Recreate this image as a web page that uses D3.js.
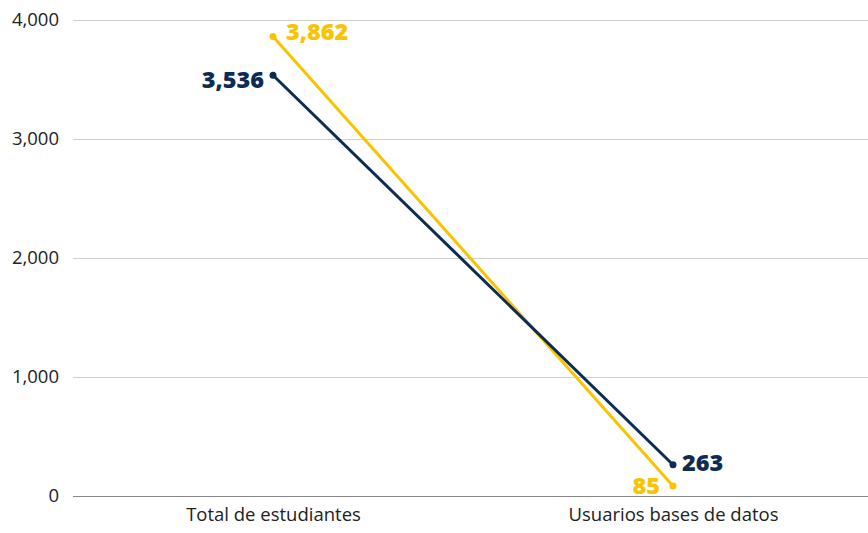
<!DOCTYPE html>
<html>
<head>
<meta charset="utf-8">
<script src="https://cdn.jsdelivr.net/npm/d3@7"></script>
<style>
  body { margin: 0; background: #fff; }
  svg { font-family: "Open Sans", sans-serif; }
</style>
</head>
<body>
<svg id="chart" width="868" height="533"></svg>
<script>
// data
var categories = ["Total de estudiantes", "Usuarios bases de datos"];
var navyValues = [3536, 263];
var yellowValues = [3862, 85];
var yTicks = [0, 1000, 2000, 3000, 4000];

var margin = { top: 20, left: 73, bottom: 37 },
  width = 800,
  gridWidth = 868 - margin.left,
  height = 533 - margin.top - margin.bottom;

var svg = d3.select("#chart")
  .append("g")
  .attr("transform", "translate(" + margin.left + "," + margin.top + ")");

var xScale = d3.scalePoint().domain(categories).range([0, width]).padding(0.5);
var yScale = d3.scaleLinear().domain([0, 4000]).range([height, 0]);

// grid
svg.append("g")
  .selectAll("line")
  .data(yTicks)
  .join("line")
  .attr("x1", 0).attr("x2", gridWidth)
  .attr("y1", d => yScale(d)).attr("y2", d => yScale(d))
  .attr("stroke", d => d === 0 ? "#888" : "#d0d0d0")
  .attr("stroke-width", 1)
  .attr("shape-rendering", "crispEdges");

// y axis labels
var yAxis = d3.axisLeft(yScale).tickValues(yTicks).tickFormat(d3.format(",")).tickSize(0).tickPadding(14);
svg.append("g").call(yAxis)
  .call(g => g.select(".domain").remove())
  .selectAll("text")
  .attr("font-size", 18.5)
  .attr("font-family", "Open Sans")
  .attr("fill", "#222");

// x axis labels
var xAxis = d3.axisBottom(xScale).tickSize(0).tickPadding(12);
svg.append("g").attr("transform", "translate(0," + height + ")").call(xAxis)
  .call(g => g.select(".domain").remove())
  .selectAll("text")
  .attr("font-size", 18.5)
  .attr("font-family", "Open Sans")
  .attr("fill", "#222");

// label placement: side (+1 right, -1 left), gap and vertical nudge per point
var series = [
  { name: "yellow", values: yellowValues, color: "#f9c300", side: [1, -1], gap: 13, nudge: [-4, 0] },
  { name: "navy", values: navyValues, color: "#0c2c54", side: [-1, 1], gap: 9, nudge: [5, -1] }
];

var line = d3.line()
  .x((d, i) => xScale(categories[i]))
  .y(d => yScale(d));

series.forEach(function (s) {
  svg.append("path")
    .attr("d", line(s.values))
    .attr("fill", "none")
    .attr("stroke", s.color)
    .attr("stroke-width", 3);

  svg.append("g")
    .selectAll("circle")
    .data(s.values)
    .join("circle")
    .attr("cx", (d, i) => xScale(categories[i]))
    .attr("cy", d => yScale(d))
    .attr("r", 3.5)
    .attr("fill", s.color);

  svg.append("g")
    .selectAll("text")
    .data(s.values)
    .join("text")
    .attr("x", (d, i) => xScale(categories[i]) + s.side[i] * s.gap)
    .attr("y", (d, i) => yScale(d) + s.nudge[i])
    .attr("dy", "0.33em")
    .attr("text-anchor", (d, i) => s.side[i] > 0 ? "start" : "end")
    .attr("font-size", 23.5)
    .attr("font-weight", 800)
    .attr("fill", s.color)
    .text(d => d3.format(",")(d));
});
</script>
</body>
</html>
